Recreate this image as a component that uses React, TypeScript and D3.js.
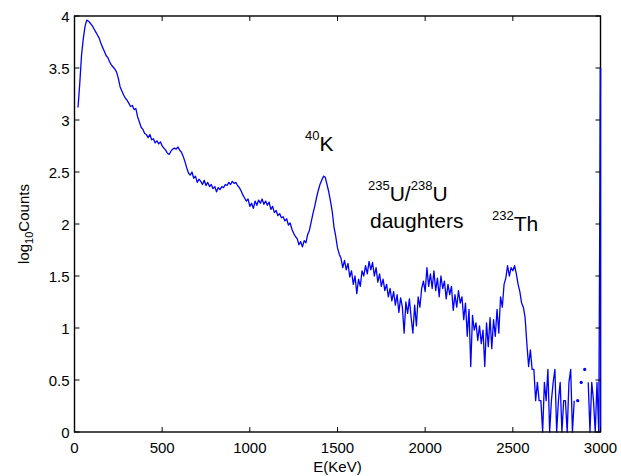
import React from "react";
import * as d3 from "d3";

// spectrum channels: first channel energy and channel width (keV)
const firstE = 20;
const stepE = 10;

// log10 counts per channel (null = empty channel)
const logCounts: (number | null)[] = [
  3.12, 3.35, 3.62, 3.78, 3.9, 3.96, 3.95, 3.93, 3.91,
  3.88, 3.85, 3.82, 3.79, 3.74, 3.7, 3.66, 3.62, 3.6, 3.56,
  3.53, 3.51, 3.49, 3.46, 3.4, 3.32, 3.28, 3.24, 3.21, 3.19,
  3.16, 3.13, 3.14, 3.1, 3.11, 3.03, 2.98, 2.93, 2.91, 2.87,
  2.86, 2.83, 2.86, 2.81, 2.82, 2.78, 2.8, 2.77, 2.79, 2.75,
  2.73, 2.71, 2.68, 2.67, 2.7, 2.72, 2.73, 2.72, 2.74, 2.71,
  2.69, 2.65, 2.6, 2.54, 2.49, 2.47, 2.5, 2.44, 2.46, 2.4,
  2.43, 2.41, 2.38, 2.42, 2.37, 2.4, 2.36, 2.38, 2.34, 2.36,
  2.31, 2.35, 2.33, 2.36, 2.35, 2.38, 2.37, 2.4, 2.38, 2.41,
  2.39, 2.4, 2.37, 2.35, 2.32, 2.28, 2.25, 2.22, 2.24, 2.17,
  2.2, 2.15, 2.22, 2.18, 2.23, 2.2, 2.24, 2.19, 2.22, 2.18,
  2.21, 2.14, 2.17, 2.11, 2.13, 2.08, 2.1, 2.06, 2.07, 2.03,
  2.05, 1.99, 2.01, 1.95, 1.91, 1.88, 1.86, 1.8, 1.83, 1.78,
  1.84, 1.82, 1.9, 1.94, 2.02, 2.1, 2.17, 2.25, 2.32, 2.38,
  2.42, 2.46, 2.45, 2.38, 2.31, 2.22, 2.12, 1.97, 1.88, 1.77,
  1.71, 1.67, 1.58, 1.65, 1.56, 1.62, 1.49, 1.55, 1.42, 1.5,
  1.33, 1.47, 1.4, 1.55, 1.5, 1.6, 1.52, 1.64, 1.56, 1.63,
  1.5, 1.58, 1.44, 1.52, 1.4, 1.47, 1.36, 1.42, 1.3, 1.38,
  1.26, 1.35, 1.22, 1.32, 1.15, 1.29, 1.2, 0.95, 1.25, 1.14,
  1.28, 1.1, 0.95, 1.22, 1.02, 1.3, 1.2, 1.38, 1.45, 1.35,
  1.58, 1.4, 1.52, 1.38, 1.55, 1.36, 1.48, 1.3, 1.5, 1.38,
  1.45, 1.28, 1.42, 1.32, 1.4, 1.17, 1.32, 1.2, 1.36, 1.24,
  1.3, 1.08, 1.24, 0.92, 1.18, 0.63, 1.12, 0.98, 1.05, 0.88,
  1.02, 0.85, 0.98, 0.63, 1.05, 0.82, 1.1, 0.8, 1.08, 0.92,
  1.18, 0.95, 1.3, 1.2, 1.42, 1.48, 1.6, 1.5, 1.58, 1.55,
  1.6, 1.52, 1.42, 1.35, 1.24, 1.2, 1.1, 0.85, 0.63, 0.79,
  0.602, 0.602, 0.301, 0.477, 0.301, 0.301, 0, 0.477, 0.301, 0.602,
  0, 0.301, 0.477, 0.602, 0, 0.301, 0.477, 0, 0.301, 0.301,
  0, 0.477, 0.602, 0, 0.301, null, 0.301, null, 0.477, null,
  0.602, null, 0.477, 0, 0.477, 0.301, 0, 0.477, 0, 3.5,
];

const xTicks = [0, 500, 1000, 1500, 2000, 2500, 3000];
const yTicks = [0, 0.5, 1, 1.5, 2, 2.5, 3, 3.5, 4];
const yTickLabels = ["0", "0.5", "1", "1.5", "2", "2.5", "3", "3.5", "4"];

const W = 621;
const H = 476;
const margin = { top: 16, right: 20.5, bottom: 44, left: 74.5 };
const font = "'Liberation Sans', Arial, Helvetica, sans-serif";

type Pt = { e: number; v: number | null };

export default function App() {
  const pts: Pt[] = logCounts.map((v, i) => ({ e: firstE + i * stepE, v }));

  const x = d3
    .scaleLinear()
    .domain([0, 3000])
    .range([margin.left, W - margin.right]);
  const y = d3
    .scaleLinear()
    .domain([0, 4])
    .range([H - margin.bottom, margin.top]);

  const line = d3
    .line<Pt>()
    .defined((d) => d.v != null)
    .x((d) => x(d.e))
    .y((d) => y(d.v as number));

  // channels with no neighbours on either side show up as lone dots
  const lone = pts.filter(
    (d, i) =>
      d.v != null &&
      (i === 0 || pts[i - 1].v == null) &&
      (i === pts.length - 1 || pts[i + 1].v == null)
  );

  const x0 = x(0);
  const x1 = x(3000);
  const y0 = y(0);
  const y1 = y(4);
  const tick = 5;

  return (
    <svg
      width={W}
      height={H}
      style={{ position: "absolute", left: 0, top: 0, background: "#fff" }}
      fontFamily={font}
    >
      <path
        d={line(pts) || ""}
        fill="none"
        stroke="#0000ff"
        strokeWidth={1.3}
        strokeLinejoin="round"
      />
      {lone.map((d) => (
        <circle key={d.e} cx={x(d.e)} cy={y(d.v as number)} r={1.6} fill="#0000ff" />
      ))}

      {/* frame */}
      <rect
        x={x0}
        y={y1}
        width={x1 - x0}
        height={y0 - y1}
        fill="none"
        stroke="#000"
        strokeWidth={1.4}
      />
      {/* right edge: the last channel spike sits on top of the frame */}
      <line
        x1={x(3000)}
        x2={x(3000)}
        y1={y(0)}
        y2={y(logCounts[logCounts.length - 1] as number)}
        stroke="#0000ff"
        strokeWidth={1.4}
      />

      {xTicks.map((t) => (
        <g key={"x" + t}>
          <line x1={x(t)} x2={x(t)} y1={y0} y2={y0 - tick} stroke="#000" />
          <line x1={x(t)} x2={x(t)} y1={y1} y2={y1 + tick} stroke="#000" />
          <text x={x(t)} y={y0 + 21} textAnchor="middle" fontSize={15}>
            {t}
          </text>
        </g>
      ))}
      {yTicks.map((t, i) => (
        <g key={"y" + t}>
          <line x1={x0} x2={x0 + tick} y1={y(t)} y2={y(t)} stroke="#000" />
          <line x1={x1} x2={x1 - tick} y1={y(t)} y2={y(t)} stroke="#000" />
          <text x={x0 - 5} y={y(t) + 5.5} textAnchor="end" fontSize={15}>
            {yTickLabels[i]}
          </text>
        </g>
      ))}

      <text x={(x0 + x1) / 2} y={H - 4} textAnchor="middle" fontSize={15}>
        E(KeV)
      </text>
      <text
        transform={`translate(29,${(y0 + y1) / 2}) rotate(-90)`}
        textAnchor="middle"
        fontSize={15}
      >
        log
        <tspan fontSize={11} dy={4}>10</tspan>
        <tspan dy={-4}>Counts</tspan>
      </text>

      {/* peak annotations */}
      <text x={305} y={151} fontSize={21}>
        <tspan fontSize={13} dy={-11}>40</tspan>
        <tspan dy={11}>K</tspan>
      </text>
      <text x={368} y={201} fontSize={21}>
        <tspan fontSize={13} dy={-11}>235</tspan>
        <tspan dy={11}>U/</tspan>
        <tspan fontSize={13} dy={-11}>238</tspan>
        <tspan dy={11}>U</tspan>
      </text>
      <text x={370} y={228} fontSize={21}>
        daughters
      </text>
      <text x={492} y={231} fontSize={21}>
        <tspan fontSize={13} dy={-11}>232</tspan>
        <tspan dy={11}>Th</tspan>
      </text>
    </svg>
  );
}
